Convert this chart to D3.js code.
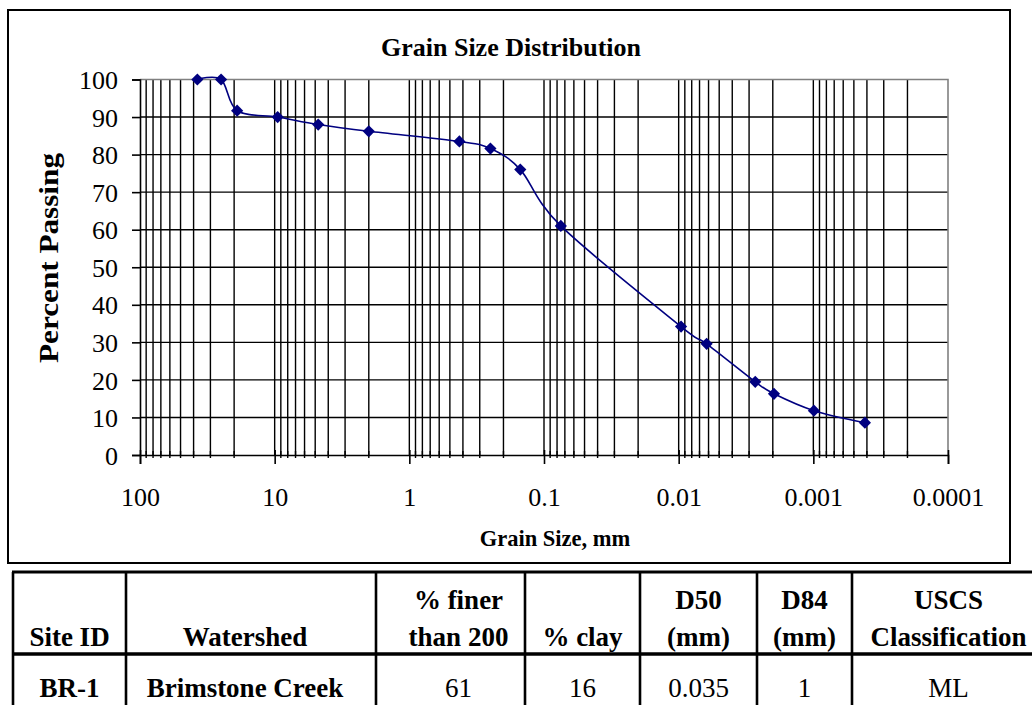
<!DOCTYPE html>
<html>
<head>
<meta charset="utf-8">
<script src="https://cdn.jsdelivr.net/npm/d3@7"></script>
<style>
  html, body { margin: 0; padding: 0; background: #fff; }
  svg { display: block; }
  text { font-family: "Liberation Serif", "Times New Roman", serif; fill: #000; }
</style>
</head>
<body>
<svg id="chart" width="1032" height="705"></svg>
<script>
// ---- data ----
const grainSize = [37.5, 25, 19, 9.5, 4.75, 2.0, 0.425, 0.25, 0.15, 0.075, 0.0096, 0.0062, 0.0027, 0.00196, 0.00099, 0.000414];
const percentPassing = [100, 100, 91.7, 90, 88, 86.2, 83.5, 81.6, 76.0, 61.0, 34.2, 29.6, 19.5, 16.3, 11.8, 8.6];
const xTickValues = [100, 10, 1, 0.1, 0.01, 0.001, 0.0001];
const xTickLabels = ["100", "10", "1", "0.1", "0.01", "0.001", "0.0001"];
const yTickValues = [0, 10, 20, 30, 40, 50, 60, 70, 80, 90, 100];
const chartTitle = "Grain Size Distribution";
const xTitle = "Grain Size, mm";
const yTitle = "Percent Passing";
const tableHeaders = [["Site ID"], ["Watershed"], ["% finer", "than 200"], ["% clay"], ["D50", "(mm)"], ["D84", "(mm)"], ["USCS", "Classification"]];
const tableRow = ["BR-1", "Brimstone Creek", "61", "16", "0.035", "1", "ML"];
const tableRowBold = [true, true, false, false, false, false, false];

// ---- layout ----
const svg = d3.select("#chart");
const plot = { left: 140, right: 948, top: 79.5, bottom: 455 };

const x = d3.scaleLog().domain([100, 0.0001]).range([plot.left, plot.right]);
const y = d3.scaleLinear().domain([0, 100]).range([plot.bottom, plot.top]);

// outer chart box
svg.append("rect").attr("x", 8).attr("y", 10).attr("width", 1002).attr("height", 553)
  .attr("fill", "#fff").attr("stroke", "#000").attr("stroke-width", 2);

// gridline values: 1..9 x each decade between 100 and 0.0001
const vLines = [];
for (let p = 2; p >= -3; p--) {
  const base = Math.pow(10, p);
  for (let m = 9; m >= 1; m--) vLines.push(+(m * base / 10).toPrecision(6));
}
const innerV = vLines.filter(v => v < 100 && v > 0.0001);
const g = svg.append("g");
g.selectAll("line.vgrid").data(innerV).join("line")
  .attr("class", "vgrid")
  .attr("x1", d => x(d)).attr("x2", d => x(d))
  .attr("y1", plot.top).attr("y2", plot.bottom)
  .attr("stroke", "#000").attr("stroke-width", 1.4);

g.selectAll("line.hgrid").data(yTickValues.filter(v => v > 0 && v < 100)).join("line")
  .attr("class", "hgrid")
  .attr("x1", plot.left).attr("x2", plot.right)
  .attr("y1", d => y(d)).attr("y2", d => y(d))
  .attr("stroke", "#000").attr("stroke-width", 1.4);

// plot area border (gray top/right)
g.append("path")
  .attr("d", `M${plot.left},${plot.top}H${plot.right}V${plot.bottom}`)
  .attr("fill", "none").attr("stroke", "#808080").attr("stroke-width", 1.6);

// y axis
const yAxis = d3.axisLeft(y).tickValues(yTickValues).tickSize(8).tickPadding(14).tickFormat(d3.format("d"));
const yAx = svg.append("g").attr("transform", `translate(${plot.left},0)`).call(yAxis);
yAx.select(".domain").attr("stroke", "#000").attr("stroke-width", 1.6);
yAx.selectAll(".tick line").attr("stroke", "#000").attr("stroke-width", 1.6);
yAx.selectAll(".tick text").attr("font-size", 26).attr("font-family", "Liberation Serif").attr("fill", "#000").attr("dy", "0.35em");

// x axis
const xAxis = d3.axisBottom(x).tickValues(xTickValues).tickSize(9).tickPadding(24)
  .tickFormat((d, i) => xTickLabels[i]);
const xAx = svg.append("g").attr("transform", `translate(0,${plot.bottom})`).call(xAxis);
xAx.select(".domain").attr("stroke", "#000").attr("stroke-width", 1.6);
xAx.selectAll(".tick line").attr("stroke", "#000").attr("stroke-width", 1.6).attr("y1", -5);
xAx.selectAll(".tick text").attr("font-size", 26).attr("font-family", "Liberation Serif").attr("fill", "#000");
xAx.selectAll("line.minor").data(innerV.filter(v => Math.abs(Math.log10(v) - Math.round(Math.log10(v))) > 1e-6)).join("line")
  .attr("class", "minor")
  .attr("x1", d => x(d)).attr("x2", d => x(d)).attr("y1", -4).attr("y2", 3)
  .attr("stroke", "#000").attr("stroke-width", 1.4);

// titles
svg.append("text").attr("x", 511).attr("y", 56).attr("text-anchor", "middle")
  .attr("font-size", 26).attr("font-weight", "bold").text(chartTitle);
svg.append("text").attr("x", 555).attr("y", 546).attr("text-anchor", "middle")
  .attr("font-size", 22.5).attr("font-weight", "bold").text(xTitle);
svg.append("text").attr("transform", "translate(58,258) rotate(-90)").attr("text-anchor", "middle")
  .attr("font-size", 27).attr("font-weight", "bold")
  .attr("textLength", 210).attr("lengthAdjust", "spacingAndGlyphs").text(yTitle);

// series
const pts = grainSize.map((d, i) => [d, percentPassing[i]]);
const line = d3.line().x(d => x(d[0])).y(d => y(d[1])).curve(d3.curveCatmullRom.alpha(0));
svg.append("path").datum(pts).attr("d", line)
  .attr("fill", "none").attr("stroke", "#000080").attr("stroke-width", 1.6);
const diamond = d3.symbol().type(d3.symbolDiamond2).size(95);
svg.selectAll("path.pt").data(pts).join("path").attr("class", "pt")
  .attr("transform", d => `translate(${x(d[0])},${y(d[1])})`)
  .attr("d", diamond).attr("fill", "#000080");

// ---- table ----
const colEdges = [13, 126, 376, 525, 640, 757, 852, 1045];
const rowTop = 572, headBottom = 654, rowBottom = 745;
const tg = svg.append("g");
const cx = i => (colEdges[i] + colEdges[i + 1]) / 2 + (i === 1 ? -6 : i === 2 ? 8 : 0);
colEdges.forEach(e => tg.append("line").attr("x1", e).attr("x2", e).attr("y1", rowTop).attr("y2", rowBottom)
  .attr("stroke", "#000").attr("stroke-width", 2.6));
tg.append("line").attr("x1", 12).attr("x2", 1045).attr("y1", rowTop).attr("y2", rowTop).attr("stroke", "#000").attr("stroke-width", 2.8);
tg.append("line").attr("x1", 12).attr("x2", 1045).attr("y1", headBottom).attr("y2", headBottom).attr("stroke", "#000").attr("stroke-width", 3.6);

tableHeaders.forEach((lines, i) => {
  lines.forEach((t, j) => {
    const base = 646 - (lines.length - 1 - j) * 37;
    tg.append("text").attr("x", cx(i)).attr("y", base).attr("text-anchor", "middle")
      .attr("font-size", 27).attr("font-weight", "bold").text(t);
  });
});
tableRow.forEach((t, i) => {
  tg.append("text").attr("x", cx(i)).attr("y", 697).attr("text-anchor", "middle")
    .attr("font-size", 27).attr("font-weight", tableRowBold[i] ? "bold" : "normal").text(t);
});
</script>
</body>
</html>
